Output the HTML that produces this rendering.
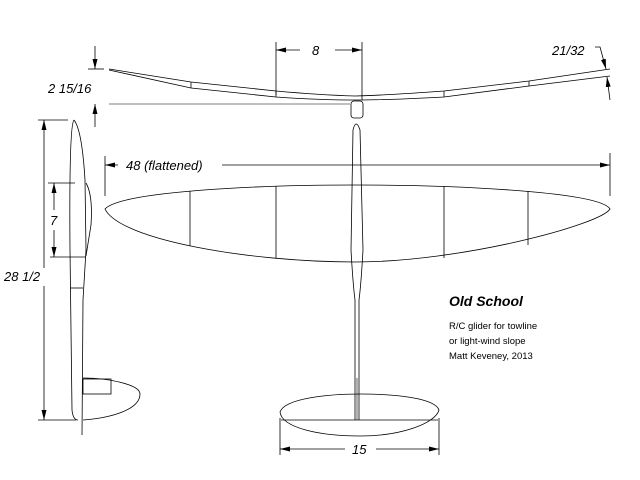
<!DOCTYPE html>
<html><head><style>body{margin:0;background:#fff}svg{display:block}text{font-family:"Liberation Sans",Arial,sans-serif;font-style:italic;fill:#000}</style></head><body>
<svg width="640" height="480" viewBox="0 0 640 480" xmlns="http://www.w3.org/2000/svg">
<defs><marker id="a" markerWidth="10" markerHeight="6" refX="10" refY="3" orient="auto" markerUnits="userSpaceOnUse"><path d="M0,0.5 L10,3 L0,5.5z" fill="#000"/></marker></defs>
<g fill="none" stroke="#000" stroke-width="0.8">
<path d="M109,69 L191,82 L276,91 Q320,95 355,96 Q390,95 444,91 L529,81 L610,69"/>
<path d="M109,70 L191,88 L276,97 Q320,100 355,100 Q390,100 444,97 L529,86 L610,76"/>
<line x1="191" y1="82" x2="191" y2="88"/><line x1="276" y1="91" x2="276" y2="97"/><line x1="444" y1="91" x2="444" y2="97"/><line x1="529" y1="81" x2="529" y2="86"/>
<line x1="109" y1="104" x2="350" y2="104" stroke="#555"/>
<rect x="351" y="101" width="12" height="17" rx="3"/>
<line x1="88" y1="69" x2="104" y2="69"/><line x1="95" y1="46" x2="95" y2="69" marker-end="url(#a)"/>
<line x1="95" y1="127" x2="95" y2="104" marker-end="url(#a)"/>
<line x1="276" y1="42" x2="276" y2="95"/><line x1="362" y1="42" x2="362" y2="100"/>
<line x1="300" y1="50" x2="276" y2="50" marker-end="url(#a)"/><line x1="335" y1="50" x2="362" y2="50" marker-end="url(#a)"/>
<path d="M595,47 L600,47 L606,69" marker-end="url(#a)"/><line x1="610" y1="100" x2="607" y2="77" marker-end="url(#a)"/>
<path d="M105,209 C120,192 250,185 355,185 C460,185 600,192 610,209 C600,225 460,262 355,262 C250,262 120,240 105,209z"/>
<line x1="190" y1="191" x2="190" y2="246"/><line x1="276" y1="186" x2="276" y2="258"/><line x1="444" y1="186" x2="444" y2="258"/><line x1="528" y1="191" x2="528" y2="245"/>
<line x1="105" y1="156" x2="105" y2="196"/><line x1="610" y1="153" x2="610" y2="196"/>
<line x1="118" y1="165" x2="105" y2="165" marker-end="url(#a)"/><line x1="222" y1="165" x2="610" y2="165" marker-end="url(#a)"/>
<path d="M353,130 Q356,118 360,130 L363,250 Q361,285 359,300 L359,420 M353,130 L351,250 Q353,285 355,300 L355,420"/>
<line x1="357" y1="378" x2="357" y2="420" stroke-width="0.6"/>
<path d="M280,412 C285,398 330,394 360,394 C395,394 435,398 439,410 C435,424 400,436 360,436 C320,436 282,428 280,412z"/>
<line x1="281" y1="420" x2="438" y2="420"/>
<line x1="280" y1="418" x2="280" y2="455"/><line x1="439" y1="418" x2="439" y2="455"/>
<line x1="345" y1="449" x2="280" y2="449" marker-end="url(#a)"/><line x1="376" y1="449" x2="439" y2="449" marker-end="url(#a)"/>
<path d="M74,120 Q69,125 70,250 L72,410 Q73,420 78,420 M74,120 Q82,130 85,180 L86,250 L83,300 L82,435"/>
<path d="M86,183 Q93,195 91,225 L86,256"/>
<line x1="50" y1="257" x2="86" y2="257"/><line x1="70" y1="288" x2="83" y2="288"/>
<path d="M83,378 C110,378 140,385 140,394 C140,410 110,418 83,420"/>
<rect x="83" y="379" width="28" height="15"/>
<line x1="38" y1="120" x2="68" y2="120"/><line x1="38" y1="420" x2="76" y2="420"/>
<line x1="44" y1="268" x2="44" y2="120" marker-end="url(#a)"/><line x1="44" y1="286" x2="44" y2="420" marker-end="url(#a)"/>
<line x1="48" y1="183" x2="75" y2="183"/>
<line x1="54" y1="210" x2="54" y2="183" marker-end="url(#a)"/><line x1="54" y1="230" x2="54" y2="257" marker-end="url(#a)"/>
</g>
<text x="48" y="93" font-size="13">2 15/16</text>
<text x="312" y="55" font-size="13">8</text>
<text x="552" y="55" font-size="13">21/32</text>
<text x="126" y="170" font-size="13">48  (flattened)</text>
<text x="352" y="454" font-size="13">15</text>
<text x="4" y="281" font-size="13">28 1/2</text>
<text x="50" y="225" font-size="13">7</text>
<text x="449" y="306" font-size="14" font-weight="bold">Old School</text>
<text x="449" y="329" font-size="9.5" style="font-style:normal">R/C glider for towline</text>
<text x="449" y="344" font-size="9.5" style="font-style:normal">or light-wind slope</text>
<text x="449" y="359" font-size="9.5" style="font-style:normal">Matt Keveney, 2013</text>
</svg></body></html>
